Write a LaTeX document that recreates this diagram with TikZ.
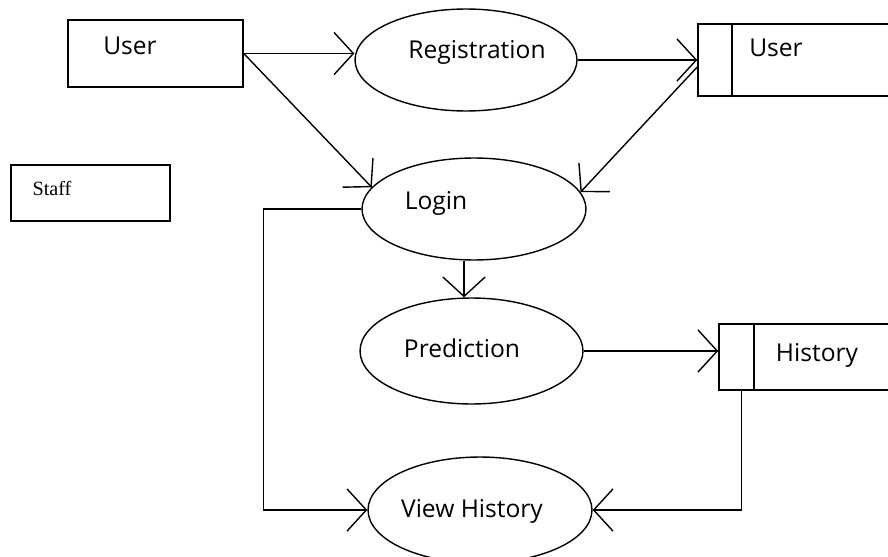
\documentclass[tikz,border=0pt]{standalone}
\usepackage{fontspec}
\setmainfont{Open Sans}
\newfontfamily\stafffont{Liberation Serif}
\usetikzlibrary{shapes.geometric,arrows.meta}

\tikzset{
	entity/.style={shape=rectangle, draw, line width=0.9pt},
	process/.style={shape=ellipse, draw, line width=0.8pt, inner sep=0pt},
	datastore/.style={shape=rectangle, draw, line width=0.9pt},
	caption/.style={anchor=base, inner sep=0pt, font=\fontsize{14}{16}\selectfont},
	flow/.style={line width=0.8pt, -{Straight Barb[length=11pt, width=24pt]}},
	wire/.style={line width=0.9pt}
}

\begin{document}
\begin{tikzpicture}[x=0.02cm, y=-0.02cm]
	\clip (0,0) rectangle (888,557);
	% Entities:
	\node[entity, minimum width=3.5cm, minimum height=1.34cm] (userbox) at (155.5, 53.5){} node[caption] (usertext) at (130, 55){User};
	\node[entity, minimum width=3.18cm, minimum height=1.12cm] (staffbox) at (90.5, 193){} node[anchor=base, inner sep=0pt, font=\stafffont\fontsize{11.5}{13}\selectfont] (stafftext) at (52, 195){Staff};
	% Processes:
	\node[process, minimum width=4.44cm, minimum height=2.04cm] (reg) at (466, 60){} node[caption] (regtext) at (477, 59){Registration};
	\node[process, minimum width=4.48cm, minimum height=2.04cm] (login) at (474, 209){} node[caption] (logintext) at (436, 210){Login};
	\node[process, minimum width=4.46cm, minimum height=2.12cm] (pred) at (471.5, 351){} node[caption] (predtext) at (462, 357){Prediction};
	\node[process, minimum width=4.48cm, minimum height=2.12cm] (vh) at (480, 510){} node[caption] (vhtext) at (472, 517){View History};
	% Data stores:
	\node[datastore, minimum width=4.04cm, minimum height=1.44cm] (ustore) at (799, 60){} node[caption] (ustoretext) at (776, 57){User};
	\draw[wire] ([xshift=0.7cm]ustore.north west) -- ([xshift=0.7cm]ustore.south west);
	\node[datastore, minimum width=3.62cm, minimum height=1.32cm] (hstore) at (809.5, 357){} node[caption] (hstoretext) at (817, 361){History};
	\draw[wire] ([xshift=0.72cm]hstore.north west) -- ([xshift=0.72cm]hstore.south west);
	% Flows:
	\draw[flow] (userbox.east) -- (userbox.east -| reg.west);
	\draw[flow] (userbox.east) -- (login.168);
	\draw[flow] (reg.east) -- (reg.east -| ustore.west);
	\draw[flow] ([yshift=-0.14cm]ustore.west) -- (login.9);
	\coordinate (loginfoot) at ([xshift=-0.2cm]login.south);
	\draw[flow] (loginfoot) -- (loginfoot |- pred.north);
	\draw[flow] (pred.east) -- (pred.east -| hstore.west);
	\draw[flow] ([xshift=0.46cm]hstore.south west) |- (vh.east);
	\draw[flow] (login.west) -- ++(-98, 0) |- (vh.west);
\end{tikzpicture}
\end{document}
